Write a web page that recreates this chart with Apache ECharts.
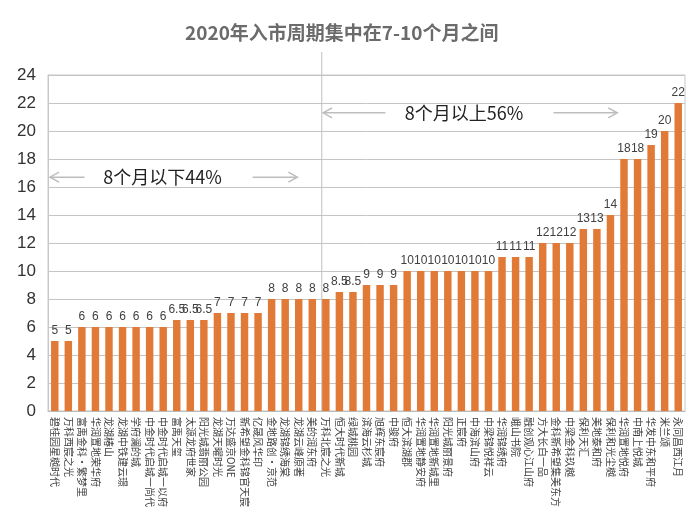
<!DOCTYPE html>
<html>
<head>
<meta charset="utf-8">
<script src="https://cdn.jsdelivr.net/npm/echarts@6/dist/echarts.min.js"></script>
<style>html,body{margin:0;padding:0;background:#fff}#c{width:700px;height:528px}</style>
</head>
<body>
<div id="c"></div>
<script>
const titleText = '2020年入市周期集中在7-10个月之间';
const categories = [
  '碧桂园星樾时代','万科西宸之光','富禹金科·繁梦里','华润置地荣华府','龙湖椿山','龙湖中铁建云璟','学府澜的城',
  '中金时代启城一尚代','中金时代启城一以府','富禹天玺','太源龙府世家','阳光城翡丽公园','龙湖天曜时光','万达盛京ONE',
  '新希望金科锦官天宸','亿晟风华印','金地路创·京范','龙湖锦绣海棠','龙湖云峰原著','美的润东府','万科北宸之光',
  '恒大时代新城','绿城桃园','滨海云杉城','旭辉东宸府','中骏府','恒大滨湖郡','华润置地静安府','华润置地新城里',
  '阳光城丽景府','正宸府','中海滨山府','中梁锦悦祥云','华润锦绣府','峨山书院','融创观心江山府','方大长白一品',
  '金科新希望集美东方','中梁金科玖樾','保利天汇','美地泰和府','保利和光尘樾','华润置地悦府','中南上悦城',
  '华发中东和平府','米兰颂','永同昌西江月'
];
const values = [
  5,5,6,6,6,6,6,6,6,6.5,6.5,6.5,7,7,7,7,8,8,8,8,8,8.5,8.5,9,9,9,
  10,10,10,10,10,10,10,11,11,11,12,12,12,13,13,14,18,18,19,20,22
];
const yTicks = {min: 0, max: 24, interval: 2};
const leftNote = '8个月以下44%';
const rightNote = '8个月以上56%';

const chart = echarts.init(document.getElementById('c'));
const option = {
  backgroundColor: '#fff',
  animation: false,
  title: {
    text: titleText, left: 180, top: 18,
    textStyle: {fontSize: 19, fontWeight: 'bold', color: '#6b6b6b', fontFamily: 'Noto Sans CJK SC'}
  },
  grid: {left: 48, right: 15, top: 75, bottom: 117, show: true, borderColor: '#c8c8c8', borderWidth: 1},
  xAxis: {
    type: 'category', data: categories,
    axisLine: {lineStyle: {color: '#bbbbbb'}},
    axisTick: {show: false},
    axisLabel: {interval: 0, rotate: -90, fontSize: 10, color: '#404040', margin: 6,
      fontFamily: 'Noto Sans CJK SC'}
  },
  yAxis: {
    type: 'value', min: yTicks.min, max: yTicks.max, interval: yTicks.interval,
    axisLine: {show: true, lineStyle: {color: '#c8c8c8'}},
    axisTick: {show: false},
    splitLine: {lineStyle: {color: '#c4c4c4', width: 1}},
    axisLabel: {fontSize: 17, color: '#333', margin: 12, fontFamily: 'Liberation Sans'}
  },
  series: [{
    type: 'bar', data: values, barWidth: '55%',
    itemStyle: {color: '#e27a37'},
    label: {show: true, position: 'top', distance: 4, fontSize: 12, color: '#404040',
      fontFamily: 'Liberation Sans'}
  }]
};
chart.setOption(option);

function drawNotes() {
  const p0 = chart.convertToPixel({xAxisIndex: 0}, 0);
  const p1 = chart.convertToPixel({xAxisIndex: 0}, 1);
  const band = p1 - p0;
  const px = (idx) => p0 + idx * band;
  const py = (v) => chart.convertToPixel({yAxisIndex: 0}, v);
  const gray = '#bdbdbd';
  const els = [];
  const lineX = px(20) - 0.3 * band;
  els.push({type: 'line', shape: {x1: lineX, y1: 52, x2: lineX, y2: py(0)},
    style: {stroke: '#c0c0c0', lineWidth: 1}, silent: true});
  function arrowPair(a1, a2, b1, b2, textIdx, yv, txt) {
    const y = py(yv);
    const xa1 = px(a1), xa2 = px(a2), xb1 = px(b1), xb2 = px(b2);
    els.push({type: 'line', shape: {x1: xa1, y1: y, x2: xa2, y2: y}, style: {stroke: gray, lineWidth: 1.5}});
    els.push({type: 'polyline', shape: {points: [[xa1 + 9, y - 5], [xa1, y], [xa1 + 9, y + 5]]},
      style: {stroke: gray, lineWidth: 1.5, fill: null}});
    els.push({type: 'line', shape: {x1: xb1, y1: y, x2: xb2, y2: y}, style: {stroke: gray, lineWidth: 1.5}});
    els.push({type: 'polyline', shape: {points: [[xb2 - 9, y - 5], [xb2, y], [xb2 - 9, y + 5]]},
      style: {stroke: gray, lineWidth: 1.5, fill: null}});
    els.push({type: 'text', x: px(textIdx), y: y,
      style: {text: txt, fontSize: 18, fill: '#222', align: 'center', verticalAlign: 'middle',
        fontFamily: 'Noto Sans CJK SC'}});
  }
  arrowPair(-0.35, 2.2, 14.6, 17.9, 7.95, 16.7, leftNote);
  arrowPair(19.8, 24.4, 36.8, 41.5, 30.2, 21.3, rightNote);
  chart.setOption({graphic: {elements: els}});
}
drawNotes();
</script>
</body>
</html>
